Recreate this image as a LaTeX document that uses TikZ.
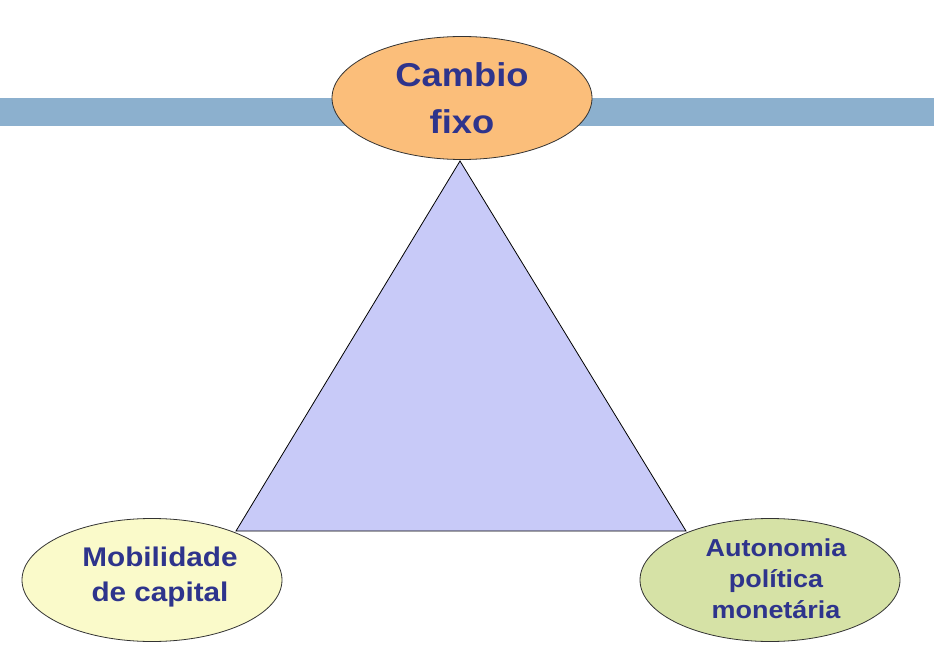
\documentclass[tikz,border=0pt]{standalone}
\usepackage{fontspec}
\setmainfont{Liberation Sans}
\newfontfamily\widesans[FakeStretch=1.1]{Liberation Sans}
\usetikzlibrary{shapes.geometric}
\definecolor{barblue}{RGB}{140,176,206}
\definecolor{orangefill}{RGB}{251,190,122}
\definecolor{trifill}{RGB}{200,202,248}
\definecolor{yellowfill}{RGB}{250,250,202}
\definecolor{greenfill}{RGB}{214,226,166}
\definecolor{textblue}{RGB}{46,52,140}
\tikzset{
  oval/.style={ellipse, draw=black!80, line width=0.8pt, minimum width=260pt, minimum height=123pt, inner sep=0pt},
  ovaltext/.style={inner sep=0pt, align=center, text=textblue},
}
\begin{document}
\begin{tikzpicture}[x=1pt,y=-1pt]
\useasboundingbox (0,0) rectangle (934,668);
\fill[white] (0,0) rectangle (934,668);
\fill[barblue] (0,98) rectangle (934,126);
\coordinate (A) at (460,161);
\coordinate (B) at (236,531);
\coordinate (C) at (686,531);
\draw[fill=trifill, line width=0.8pt, line join=miter] (A) -- (B) -- (C) -- cycle;
\node[oval, fill=orangefill] (top) at (462,98) {};
\node[oval, fill=yellowfill] (left) at (152,580) {};
\node[oval, fill=greenfill] (right) at (770,580) {};
\node[ovaltext, font=\widesans\bfseries\fontsize{33}{47}\selectfont] (toptext) at (top.center) {Cambio\\fixo};
\node[ovaltext, font=\widesans\bfseries\fontsize{27}{35}\selectfont] (lefttext) at ([xshift=8pt,yshift=3pt]left.center) {Mobilidade\\de capital};
\node[ovaltext, font=\widesans\bfseries\fontsize{24.5}{31}\selectfont] (righttext) at ([xshift=6pt,yshift=1pt]right.center) {Autonomia\\pol\'{\i}tica\\monet\'aria};
\end{tikzpicture}
\end{document}
